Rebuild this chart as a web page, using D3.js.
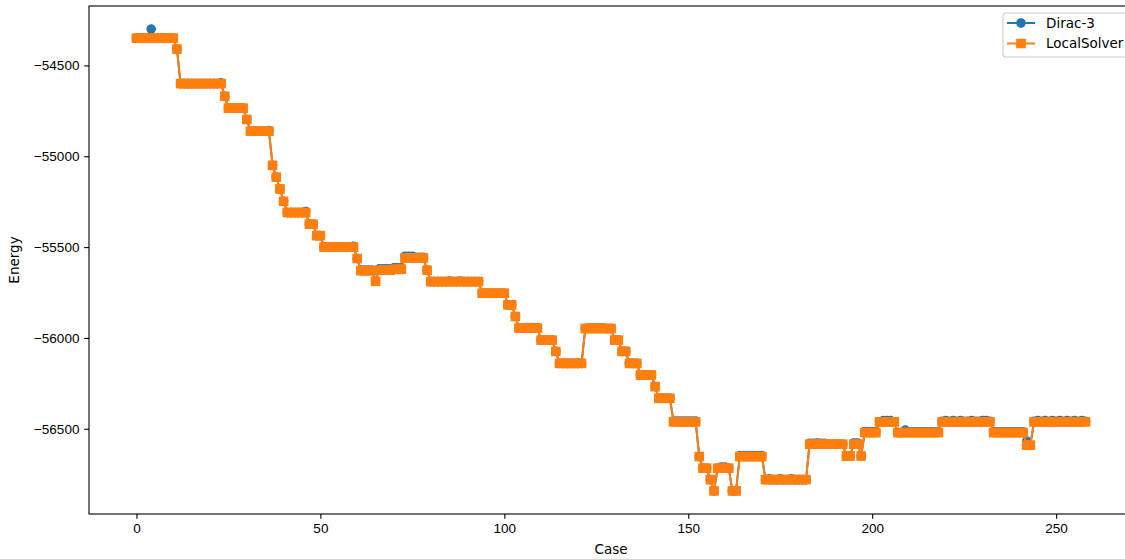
<!DOCTYPE html>
<html>
<head>
<meta charset="utf-8">
<script src="https://cdn.jsdelivr.net/npm/d3@7"></script>
<style>
  body { margin: 0; background: #fff; }
  svg { display: block; font-family: "DejaVu Sans", sans-serif; }
  .axis text { font-size: 13.5px; fill: #000; }
  .axis path, .axis line { stroke: #000; stroke-width: 1.1; }
</style>
</head>
<body>
<svg id="chart" width="1125" height="559"></svg>
<script>
// energy per case
const localSolver = [
  -54350, -54350, -54350, -54350, -54350, -54350, -54350, -54350, -54350, -54350,
  -54350, -54410, -54600, -54600, -54600, -54600, -54600, -54600, -54600, -54600,
  -54600, -54600, -54600, -54600, -54670, -54735, -54735, -54735, -54735, -54735,
  -54798, -54862, -54862, -54862, -54862, -54862, -54862, -55050, -55115, -55180,
  -55248, -55310, -55310, -55310, -55310, -55310, -55310, -55374, -55374, -55437,
  -55437, -55500, -55500, -55500, -55500, -55500, -55500, -55500, -55500, -55500,
  -55563, -55630, -55630, -55630, -55630, -55688, -55627, -55627, -55627, -55627,
  -55622, -55622, -55622, -55560, -55560, -55560, -55560, -55560, -55560, -55627,
  -55690, -55690, -55690, -55690, -55690, -55690, -55690, -55690, -55690, -55690,
  -55690, -55690, -55690, -55690, -55754, -55754, -55754, -55754, -55754, -55754,
  -55754, -55818, -55818, -55882, -55946, -55946, -55946, -55946, -55946, -55946,
  -56012, -56012, -56012, -56012, -56074, -56140, -56140, -56140, -56140, -56140,
  -56140, -56140, -55948, -55948, -55948, -55948, -55948, -55948, -55948, -55948,
  -56012, -56012, -56074, -56074, -56140, -56140, -56140, -56204, -56204, -56204,
  -56204, -56268, -56332, -56332, -56332, -56332, -56462, -56462, -56462, -56462,
  -56462, -56462, -56462, -56653, -56717, -56717, -56780, -56842, -56717, -56717,
  -56717, -56717, -56842, -56842, -56653, -56653, -56653, -56653, -56653, -56653,
  -56653, -56780, -56780, -56780, -56780, -56780, -56780, -56780, -56780, -56780,
  -56780, -56780, -56780, -56585, -56585, -56585, -56585, -56585, -56585, -56585,
  -56585, -56585, -56585, -56650, -56650, -56585, -56585, -56650, -56521, -56521,
  -56521, -56521, -56462, -56462, -56462, -56462, -56462, -56521, -56521, -56521,
  -56521, -56521, -56521, -56521, -56521, -56521, -56521, -56521, -56521, -56462,
  -56462, -56462, -56462, -56462, -56462, -56462, -56462, -56462, -56462, -56462,
  -56462, -56462, -56462, -56521, -56521, -56521, -56521, -56521, -56521, -56521,
  -56521, -56521, -56590, -56590, -56462, -56462, -56462, -56462, -56462, -56462,
  -56462, -56462, -56462, -56462, -56462, -56462, -56462, -56462, -56462
]

const dirac3 = [
  -54350, -54350, -54350, -54350, -54300, -54350, -54350, -54350, -54350, -54350,
  -54350, -54410, -54600, -54600, -54600, -54600, -54600, -54600, -54600, -54600,
  -54600, -54600, -54600, -54596, -54670, -54735, -54735, -54735, -54735, -54735,
  -54798, -54862, -54862, -54862, -54862, -54862, -54858, -55050, -55115, -55180,
  -55248, -55310, -55310, -55310, -55310, -55310, -55304, -55374, -55374, -55437,
  -55437, -55500, -55500, -55500, -55500, -55500, -55500, -55500, -55500, -55496,
  -55563, -55627, -55627, -55627, -55627, -55688, -55620, -55620, -55620, -55620,
  -55614, -55614, -55614, -55550, -55550, -55550, -55556, -55556, -55556, -55627,
  -55690, -55690, -55690, -55690, -55690, -55687, -55690, -55690, -55687, -55690,
  -55690, -55690, -55690, -55690, -55754, -55754, -55754, -55754, -55754, -55754,
  -55754, -55818, -55818, -55882, -55946, -55946, -55943, -55943, -55943, -55946,
  -56012, -56012, -56012, -56012, -56074, -56140, -56140, -56140, -56140, -56140,
  -56140, -56140, -55948, -55945, -55945, -55945, -55945, -55945, -55948, -55948,
  -56012, -56012, -56074, -56074, -56140, -56140, -56140, -56204, -56204, -56204,
  -56204, -56268, -56332, -56332, -56332, -56332, -56458, -56458, -56458, -56458,
  -56458, -56458, -56458, -56653, -56717, -56717, -56780, -56842, -56717, -56711,
  -56711, -56717, -56842, -56842, -56648, -56648, -56648, -56648, -56648, -56648,
  -56648, -56780, -56776, -56780, -56780, -56776, -56780, -56780, -56776, -56780,
  -56780, -56780, -56780, -56580, -56580, -56578, -56580, -56580, -56585, -56585,
  -56585, -56585, -56585, -56650, -56650, -56578, -56578, -56650, -56515, -56515,
  -56515, -56515, -56462, -56455, -56455, -56455, -56462, -56521, -56521, -56507,
  -56517, -56517, -56517, -56517, -56517, -56517, -56517, -56517, -56517, -56459,
  -56455, -56459, -56455, -56459, -56455, -56459, -56459, -56455, -56459, -56459,
  -56455, -56455, -56459, -56516, -56516, -56516, -56516, -56516, -56516, -56516,
  -56516, -56516, -56568, -56590, -56459, -56455, -56459, -56455, -56459, -56455,
  -56459, -56455, -56459, -56455, -56459, -56455, -56459, -56455, -56459
]

const seriesNames = ["Dirac-3", "LocalSolver"]
const seriesColours = ["#1f77b4", "#ff7f0e"]
const xTicks = [0, 50, 100, 150, 200, 250]
const yTicks = [-54500, -55000, -55500, -56000, -56500]

const svg = d3.select("#chart")
const box = { left: 89, right: 1133, top: 6, bottom: 514 }

// matplotlib style 5% margins around the data
const n = localSolver.length
const xPad = 0.05 * (n - 1)
const x = d3.scaleLinear()
  .domain([-xPad, n - 1 + xPad])
  .range([box.left, box.right])

const all = dirac3.concat(localSolver)
const [lo, hi] = d3.extent(all)
const yPad = 0.05 * (hi - lo)
const y = d3.scaleLinear()
  .domain([lo - yPad, hi + yPad])
  .range([box.bottom, box.top])

const fmt = d3.format("d")

// axes
svg.append("g")
  .attr("class", "axis")
  .attr("transform", "translate(0," + box.bottom + ")")
  .call(d3.axisBottom(x).tickValues(xTicks).tickSize(4.8).tickPadding(4.8).tickFormat(fmt))
  .call(g => g.select(".domain").remove())

svg.append("g")
  .attr("class", "axis")
  .attr("transform", "translate(" + box.left + ",0)")
  .call(d3.axisLeft(y).tickValues(yTicks).tickSize(4.8).tickPadding(4.8).tickFormat(fmt))
  .call(g => g.select(".domain").remove())

// frame
svg.append("rect")
  .attr("x", box.left)
  .attr("y", box.top)
  .attr("width", box.right - box.left)
  .attr("height", box.bottom - box.top)
  .attr("fill", "none")
  .attr("stroke", "#000")
  .attr("stroke-width", 1.1)

// axis labels
svg.append("text")
  .attr("x", (box.left + box.right) / 2)
  .attr("y", 554)
  .attr("text-anchor", "middle")
  .style("font-size", "13.5px")
  .text("Case")

svg.append("text")
  .attr("transform", "translate(19," + (box.top + box.bottom) / 2 + ") rotate(-90)")
  .attr("text-anchor", "middle")
  .style("font-size", "13.5px")
  .text("Energy")

const line = d3.line()
  .x((d, i) => x(i))
  .y(d => y(d))

const plot = svg.append("g")

function drawSeries(values, colour, square) {
  plot.append("path")
    .datum(values)
    .attr("fill", "none")
    .attr("stroke", colour)
    .attr("stroke-width", 2)
    .attr("stroke-linejoin", "round")
    .attr("d", line)

  const s = 8.3
  if (square) {
    plot.selectAll(null)
      .data(values)
      .join("rect")
      .attr("x", (d, i) => x(i) - s / 2)
      .attr("y", d => y(d) - s / 2)
      .attr("width", s)
      .attr("height", s)
      .attr("fill", colour)
      .attr("stroke", colour)
      .attr("stroke-width", 1.3)
  } else {
    plot.selectAll(null)
      .data(values)
      .join("circle")
      .attr("cx", (d, i) => x(i))
      .attr("cy", d => y(d))
      .attr("r", s / 2)
      .attr("fill", colour)
      .attr("stroke", colour)
      .attr("stroke-width", 1.3)
  }
}

drawSeries(dirac3, seriesColours[0], false)
drawSeries(localSolver, seriesColours[1], true)

// legend
const legend = svg.append("g")
  .attr("transform", "translate(1003,13)")

legend.append("rect")
  .attr("width", 140)
  .attr("height", 44)
  .attr("rx", 3)
  .attr("fill", "#fff")
  .attr("fill-opacity", 0.8)
  .attr("stroke", "#cccccc")
  .attr("stroke-width", 1.1)

seriesNames.forEach((name, i) => {
  const row = legend.append("g")
    .attr("transform", "translate(0," + (10 + i * 20.5) + ")")
  row.append("line")
    .attr("x1", 4)
    .attr("x2", 32)
    .attr("stroke", seriesColours[i])
    .attr("stroke-width", 2)
  if (i == 0) {
    row.append("circle")
      .attr("cx", 18)
      .attr("r", 4.15)
      .attr("fill", seriesColours[i])
      .attr("stroke", seriesColours[i])
      .attr("stroke-width", 1.3)
  } else {
    row.append("rect")
      .attr("x", 18 - 4.15)
      .attr("y", -4.15)
      .attr("width", 8.3)
      .attr("height", 8.3)
      .attr("fill", seriesColours[i])
      .attr("stroke", seriesColours[i])
      .attr("stroke-width", 1.3)
  }
  row.append("text")
    .attr("x", 43)
    .attr("dy", "0.35em")
    .style("font-size", "13.5px")
    .text(name)
})
</script>
</body>
</html>
